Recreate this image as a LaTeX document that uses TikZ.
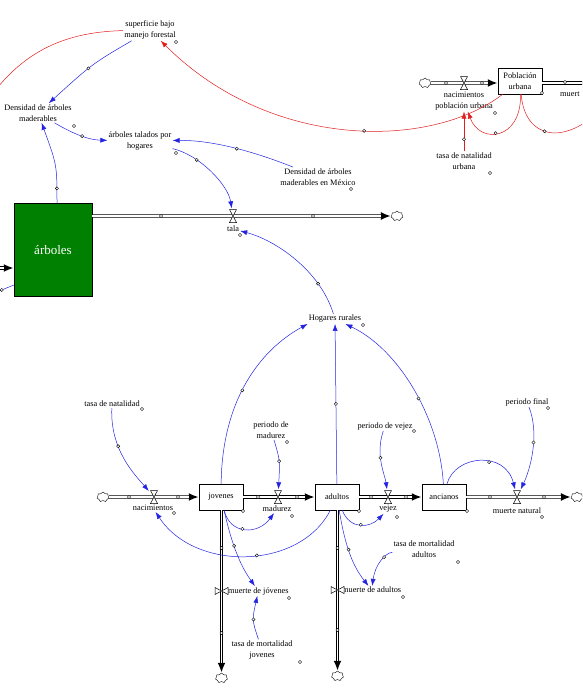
\documentclass[tikz,border=0pt]{standalone}
\usepackage{fontspec}
\setmainfont{Liberation Serif}
\usetikzlibrary{shapes,arrows.meta}
\definecolor{linkblue}{RGB}{35,35,225}
\definecolor{linkred}{RGB}{225,30,30}
\definecolor{stockgreen}{RGB}{0,128,0}

\begin{document}
\begin{tikzpicture}[x=1pt,y=-1pt]
    \tikzstyle{var}=[align=center,inner sep=1pt,font=\fontsize{8.3}{11.5}\selectfont]
    \tikzstyle{stockbox}=[var,draw,fill=white,minimum width=44pt,minimum height=26pt]
    \tikzstyle{sink}=[cloud,draw,cloud puffs=7,aspect=1.2,minimum width=12pt,minimum height=10pt,inner sep=0pt,fill=white]
    \tikzstyle{pipe}=[draw=black,line width=3.4pt,-{Latex[length=10pt,width=8pt]},postaction={draw=white,line width=1.8pt,arrows=-,shorten >=10pt}]
    \tikzstyle{hvalve}=[inner sep=0pt,minimum width=10pt,minimum height=15pt,path picture={\filldraw[fill=white,line width=.5pt] ([shift={(-3.5pt,6.5pt)}]path picture bounding box.center) -- ++(7pt,0pt) -- ++(-7pt,-13pt) -- ++(7pt,0pt) -- cycle;}]
    \tikzstyle{vvalve}=[inner sep=0pt,minimum width=15pt,minimum height=10pt,path picture={\filldraw[fill=white,line width=.5pt] ([shift={(-6.5pt,3.5pt)}]path picture bounding box.center) -- ++(0pt,-7pt) -- ++(13pt,7pt) -- ++(0pt,-7pt) -- cycle;}]
    \tikzstyle{link}=[draw=linkblue,line width=.5pt,-{Latex[length=7pt,width=5pt]}]
    \tikzstyle{redlink}=[draw=linkred,line width=.5pt,-{Latex[length=7pt,width=5pt]}]
    \useasboundingbox (0,0) rectangle (582,693);
    \clip (0,0) rectangle (582,693);

    % forest part
    \node[var] (sup) at (150,30) {superficie bajo\\manejo forestal};
    \node[var] (dens) at (38,113) {Densidad de árboles\\maderables};
    \node[var] (tal) at (140,141) {árboles talados por\\hogares};
    \node[var] (densmx) at (318,177) {Densidad de árboles\\maderables en México};
    \node[draw,fill=stockgreen,minimum width=78pt,minimum height=93pt,text=white,font=\fontsize{13}{15}\selectfont] (arb) at (53,250) {árboles};
    \node[sink] (ctala) at (397,216) {};
    \node[var] (talalbl) at (233,229) {tala};

    % urban population
    \node[stockbox] (pob) at (520,81) {Población\\urbana};
    \node[sink] (cpob) at (425,83) {};
    \node[var] (nacpob) at (464,101) {nacimientos\\población urbana};
    \node[var] (tnu) at (464,161) {tasa de natalidad\\urbana};
    \node[var,anchor=west] (muert) at (559,94) {muert};
    \coordinate (pobout) at (610,83);

    % rural households
    \node[var] (hog) at (335,319) {Hogares rurales};
    \node[var] (tn) at (112,404) {tasa de natalidad};
    \node[var] (pm) at (271,430) {periodo de\\madurez};
    \node[var] (pv) at (385,426) {periodo de vejez};
    \node[var] (pf) at (527,402) {periodo final};
    \node[sink] (c1) at (103,497) {};
    \node[stockbox] (jov) at (221,497) {jovenes};
    \node[stockbox] (adu) at (337,497) {adultos};
    \node[stockbox] (anc) at (444,497) {ancianos};
    \node[sink] (c4) at (577,497) {};
    \node[var] (nac) at (153,508) {nacimientos};
    \node[var] (mad) at (277,509) {madurez};
    \node[var] (vejez) at (388,509) {vejez};
    \node[var] (mn) at (517,511) {muerte natural};
    \node[var,anchor=west] (mj) at (227,591) {muerte de jóvenes};
    \node[var,anchor=west] (ma) at (341,590) {muerte de adultos};
    \node[var] (tmj) at (262,650) {tasa de mortalidad\\jovenes};
    \node[var] (tma) at (424,549) {tasa de mortalidad\\adultos};
    \node[sink] (cj) at (221.5,678) {};
    \node[sink] (ca) at (337.5,676) {};

    % flows
    \coordinate (arbin) at (-20,268);
    \draw[pipe] (arbin) -- (arbin -| arb.west);
    \draw[pipe] (arb.east |- ctala) -- (ctala);
    \draw[pipe] (cpob) -- (cpob -| pob.west);
    \draw[pipe] (pob.east |- cpob) -- (pobout);
    \draw[pipe] (c1) -- (jov);
    \draw[pipe] (jov) -- (adu);
    \draw[pipe] (adu) -- (anc);
    \draw[pipe] (anc) -- (c4);
    \draw[pipe] (jov.south -| cj) -- (cj);
    \draw[pipe] (adu.south -| ca) -- (ca);
    \node[hvalve] (vtala) at (233,216) {};
    \node[hvalve] (vpob) at (464,83) {};
    \node[hvalve] (v1) at (154,497) {};
    \node[hvalve] (v2) at (278,497) {};
    \node[hvalve] (v3) at (388,497) {};
    \node[hvalve] (v4) at (517,497) {};
    \node[vvalve] (vj) at (221.5,591) {};
    \node[vvalve] (va) at (337.5,590) {};

    % blue links
    \draw[link] (sup) .. controls (92,64) .. (dens) coordinate[pos=.55] (h1);
    \draw[link] ([xshift=4pt]arb.north) .. controls (57,165) .. (dens) coordinate[pos=.15] (h2);
    \draw[link] (dens) .. controls (75,135) and (90,140) .. (tal) coordinate[pos=.5] (h3);
    \draw[link] (densmx) .. controls (250,150) and (210,140) .. (tal) coordinate[pos=.45] (h4);
    \draw[link] (tal) .. controls (200,155) and (228,185) .. (vtala) coordinate[pos=.3] (h5);
    \draw[link] (hog) .. controls (320,270) and (275,240) .. (talalbl) coordinate[pos=.25] (h6);
    \draw[link] (tn) .. controls (110,450) and (135,475) .. (v1) coordinate[pos=.35] (h7);
    \draw[link] (pm) .. controls (280,460) .. (v2) coordinate[pos=.5] (h8);
    \draw[link] (pv) .. controls (375,455) and (385,475) .. (v3) coordinate[pos=.4] (h9);
    \draw[link] (pf) .. controls (540,435) and (530,470) .. (v4) coordinate[pos=.4] (h10);
    \draw[link] ([xshift=3pt]anc.north) .. controls (455,455) and (505,450) .. (v4) coordinate[pos=.6] (h11);
    \draw[link] (adu) .. controls (350,530) and (370,528) .. (vejez) coordinate[pos=.5] (h12);
    \draw[link] (jov) .. controls (230,535) and (258,535) .. (mad) coordinate[pos=.45] (h13);
    \draw[link] (adu) .. controls (300,570) and (195,572) .. (nac) coordinate[pos=.45] (h14);
    \draw[link] (jov) .. controls (232,545) and (240,565) .. (mj) coordinate[pos=.4] (h15);
    \draw[link] (tmj) .. controls (252,620) .. (mj) coordinate[pos=.5] (h16);
    \draw[link] (adu) .. controls (345,545) and (352,565) .. (ma) coordinate[pos=.45] (h17);
    \draw[link] (tma) .. controls (385,553) and (375,565) .. (ma) coordinate[pos=.35] (h18);
    \draw[link] (jov) .. controls (222,400) and (260,350) .. (hog.south west) coordinate[pos=.45] (h19);
    \draw[link] (adu) -- (hog) coordinate[pos=.5] (h20);
    \draw[link] (anc) .. controls (440,420) and (400,350) .. (hog) coordinate[pos=.45] (h21);
    \coordinate (offl) at (-8,294);
    \draw[link,arrows=-] ([yshift=-35pt]arb.west) -- (offl) coordinate[pos=.55] (h22);

    % red links
    \coordinate (offl2) at (-12,100);
    \coordinate (offr) at (600,110);
    \draw[redlink] (pob) .. controls (430,150) and (270,150) .. (sup) coordinate[pos=.45] (h23);
    \draw[redlink,arrows=-] (sup) .. controls (60,32) and (20,55) .. (offl2);
    \draw[redlink] (tnu) -- (nacpob) coordinate[pos=.3] (h24);
    \draw[redlink] (pob) .. controls (522,140) and (480,145) .. (nacpob) coordinate[pos=.55] (h25);
    \draw[redlink,arrows=-] (pob) .. controls (525,140) and (565,145) .. (offr) coordinate[pos=.45] (h26);

    % handles
    \foreach \h in {h1,h2,h3,h4,h5,h6,h7,h8,h9,h10,h11,h12,h13,h14,h15,h16,h17,h18,h19,h20,h21,h22,h23,h24,h25,h26}
      \draw[line width=.4pt,fill=white] (\h) circle (1.6pt);
    \foreach \p in {(176,42),(74,126),(176,153),(351,189),(240,235),(363,325),(542,93),(495,113),(490,173),
      (142,409),(174,513),(243,511),(287,442),(292,516),(359,511),(414,431),(397,517),(467,511),(548,408),
      (542,517),(289,598),(300,662),(403,597),(458,562),(161,216),(313,216),(446,83),(482,83),(565,82),
      (129,497),(178,497),(258,497),(297,497),(371,497),(406,497),(490,497),(544,497),(221.5,548),(221.5,633),
      (337.5,548),(337.5,630)}
      \draw[line width=.4pt,fill=white] \p circle (1.6pt);
\end{tikzpicture}
\end{document}
